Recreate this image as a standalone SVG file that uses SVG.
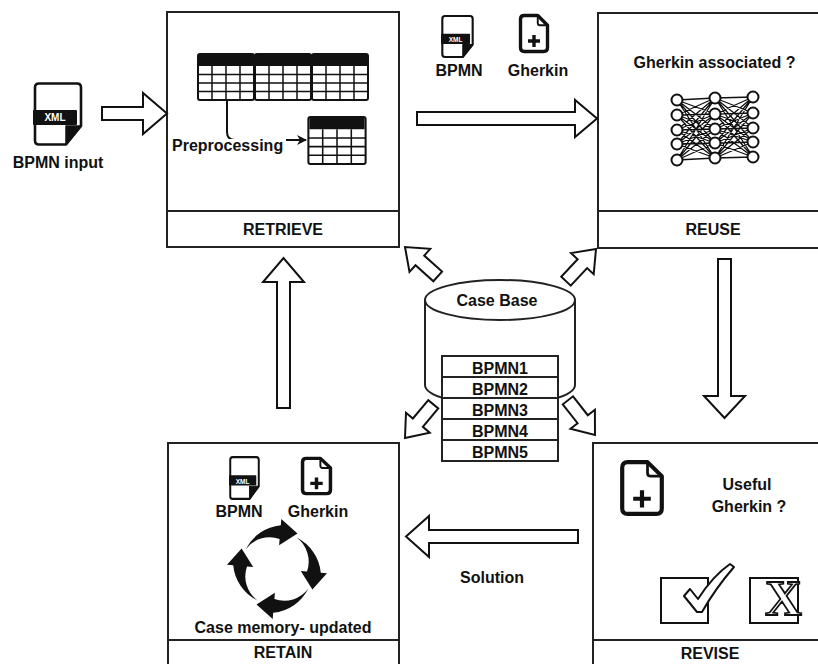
<svg xmlns="http://www.w3.org/2000/svg" xmlns:xlink="http://www.w3.org/1999/xlink" width="818" height="664" viewBox="0 0 818 664">
  <style>
    .box { fill: #fff; stroke: #222; stroke-width: 2; }
    .div { stroke: #222; stroke-width: 2; }
    .lbl { font-family: "Liberation Sans", Arial, Helvetica, sans-serif; font-weight: bold; font-size: 16px; fill: #111; text-anchor: middle; }
    .xml { font-family: "Liberation Sans", Arial, sans-serif; font-weight: bold; fill: #fff; text-anchor: middle; }
    .blk { fill: #fff; stroke: #111; stroke-width: 2; stroke-linejoin: miter; }
    .tbl { fill: #fff; stroke: #111; stroke-width: 2; }
    .grid { stroke: #111; stroke-width: 1.5; fill: none; }
    .edge { stroke: #111; stroke-width: 1.3; }
    .neu { fill: #fff; stroke: #111; stroke-width: 2; }
  </style>
  <defs>
    <!-- file icon with XML band and folded bottom-right corner -->
    <symbol id="xmlDoc" viewBox="0 0 50 64" preserveAspectRatio="none" overflow="visible">
      <path d="M6 1.5 H44 Q48 1.5 48 5.5 V44 L33 62.5 H6 Q2 62.5 2 58.5 V5.5 Q2 1.5 6 1.5 Z" fill="#fff" stroke="#111" stroke-linejoin="round"/>
      <path d="M48 44 L33 62.5 V44 Z" fill="#111" stroke="#111" stroke-width="1.5" stroke-linejoin="round"/>
      <rect x="0" y="28" width="44" height="15" rx="1" fill="#111"/>
    </symbol>
    <!-- file icon with a plus sign and folded top-right corner; outline width comes from the <use> -->
    <symbol id="plusDoc" viewBox="0 0 40 52" preserveAspectRatio="none" overflow="visible">
      <path d="M7 2 H25 L38 15 V45 Q38 50 33 50 H7 Q2 50 2 45 V7 Q2 2 7 2 Z" fill="#fff" stroke="#111" stroke-linejoin="round"/>
      <path d="M25 2 V12 Q25 15 28 15 H38" fill="none" stroke="#111" stroke-width="2.5"/>
      <path d="M20 28 V44 M12 36 H28" stroke="#111" fill="none"/>
    </symbol>
    <!-- sub-table: dark header, 4 columns x 4 rows -->
    <symbol id="subTable" viewBox="0 0 56 46" overflow="visible">
      <rect x="0" y="0" width="56" height="46" rx="2" class="tbl"/>
      <path d="M1 0 H55 V12 H1 Z" fill="#111"/>
      <path class="grid" d="M0 20.5 H56 M0 29 H56 M0 37.5 H56 M14 12 V46 M28 12 V46 M42 12 V46"/>
    </symbol>
    <!-- one curved arrow of the recycle loop -->
    <path id="loopArrow" d="M-31.4 -19.6 A44 44 0 0 1 3.8 -43.8 L4.3 -50 L20.5 -35.4 L2.1 -23.8 L2.6 -30 A30 30 0 0 0 -31.4 -19.6 Z" fill="#111"/>
    <!-- block arrow pointing along +x, tip at origin -->
    <path id="diagArrow" d="M0 0 L-20 -15.5 L-20 -6.5 L-44 -6.5 L-44 6.5 L-20 6.5 L-20 15.5 Z"/>
    <marker id="tip" viewBox="0 0 10 10" refX="9" refY="5" markerWidth="5" markerHeight="5" orient="auto" markerUnits="strokeWidth">
      <path d="M0 0 L10 5 L0 10 L3 5 Z" fill="#111"/>
    </marker>
  </defs>

  <rect width="818" height="664" fill="#fff"/>

  <!-- input file -->
  <g id="bpmn-input">
    <use xlink:href="#xmlDoc" href="#xmlDoc" x="33" y="82" width="50" height="64" stroke-width="2.6"/>
    <text class="xml" x="55" y="121" font-size="10">XML</text>
    <text class="lbl" x="58" y="168">BPMN input</text>
  </g>

  <!-- RETRIEVE -->
  <g id="retrieve">
    <rect class="box" x="167" y="12" width="232" height="235"/>
    <line class="div" x1="167" y1="211" x2="399" y2="211"/>
    <use xlink:href="#subTable" href="#subTable" x="198" y="54" width="56" height="46"/>
    <use xlink:href="#subTable" href="#subTable" x="255" y="54" width="56" height="46"/>
    <use xlink:href="#subTable" href="#subTable" x="312" y="54" width="56" height="46"/>
    <use xlink:href="#subTable" href="#subTable" x="308" y="117" width="58" height="47"/>
    <path d="M227 100 V132 Q227 140 235 140 H306" fill="none" stroke="#111" stroke-width="2" marker-end="url(#tip)"/>
    <!-- label sits on a white backing over the connector -->
    <rect x="171" y="139" width="115" height="16" fill="#fff"/>
    <text class="lbl" x="172" y="151" style="text-anchor:start">Preprocessing</text>
    <text class="lbl" x="283" y="235">RETRIEVE</text>
  </g>

  <!-- files passed to REUSE -->
  <g id="handover">
    <use xlink:href="#xmlDoc" href="#xmlDoc" x="441" y="15" width="33" height="43" stroke-width="3.2"/>
    <text class="xml" x="455.5" y="41.5" font-size="6.5">XML</text>
    <text class="lbl" x="459" y="76">BPMN</text>
    <use xlink:href="#plusDoc" href="#plusDoc" x="519" y="14" width="30" height="39" stroke-width="4.5"/>
    <text class="lbl" x="538" y="76">Gherkin</text>
  </g>

  <!-- REUSE -->
  <g id="reuse">
    <rect class="box" x="598" y="13" width="240" height="235"/>
    <line class="div" x1="598" y1="211" x2="818" y2="211"/>
    <text class="lbl" x="714.5" y="68" font-size="17">Gherkin associated ?</text>
    <g id="neural-net">
      <g class="edge">
        <path d="M677 100 L715 98 M677 100 L715 114 M677 100 L715 129 M677 100 L715 143 M677 100 L715 158
                 M677 115 L715 98 M677 115 L715 114 M677 115 L715 129 M677 115 L715 143 M677 115 L715 158
                 M677 130 L715 98 M677 130 L715 114 M677 130 L715 129 M677 130 L715 143 M677 130 L715 158
                 M677 144 L715 98 M677 144 L715 114 M677 144 L715 129 M677 144 L715 143 M677 144 L715 158
                 M677 160 L715 98 M677 160 L715 114 M677 160 L715 129 M677 160 L715 143 M677 160 L715 158
                 M715 98 L753 97 M715 98 L753 113 M715 98 L753 128 M715 98 L753 142 M715 98 L753 157
                 M715 114 L753 97 M715 114 L753 113 M715 114 L753 128 M715 114 L753 142 M715 114 L753 157
                 M715 129 L753 97 M715 129 L753 113 M715 129 L753 128 M715 129 L753 142 M715 129 L753 157
                 M715 143 L753 97 M715 143 L753 113 M715 143 L753 128 M715 143 L753 142 M715 143 L753 157
                 M715 158 L753 97 M715 158 L753 113 M715 158 L753 128 M715 158 L753 142 M715 158 L753 157"/>
      </g>
      <g class="neu">
        <circle cx="677" cy="100" r="5.5"/><circle cx="677" cy="115" r="5.5"/><circle cx="677" cy="130" r="5.5"/><circle cx="677" cy="144" r="5.5"/><circle cx="677" cy="160" r="5.5"/>
        <circle cx="715" cy="98" r="5.5"/><circle cx="715" cy="114" r="5.5"/><circle cx="715" cy="129" r="5.5"/><circle cx="715" cy="143" r="5.5"/><circle cx="715" cy="158" r="5.5"/>
        <circle cx="753" cy="97" r="5.5"/><circle cx="753" cy="113" r="5.5"/><circle cx="753" cy="128" r="5.5"/><circle cx="753" cy="142" r="5.5"/><circle cx="753" cy="157" r="5.5"/>
      </g>
    </g>
    <text class="lbl" x="713" y="235">REUSE</text>
  </g>

  <!-- case base cylinder with stored cases -->
  <g id="case-base">
    <path d="M425 300 V385 A75 20 0 0 0 575 385 V300" fill="#fff" stroke="#222" stroke-width="2"/>
    <ellipse cx="500" cy="300" rx="75" ry="20" fill="#fff" stroke="#222" stroke-width="2"/>
    <text class="lbl" x="497" y="306">Case Base</text>
    <g fill="#fff" stroke="#222" stroke-width="2">
      <rect x="442" y="356" width="116" height="21"/>
      <rect x="442" y="377" width="116" height="21"/>
      <rect x="442" y="398" width="116" height="21"/>
      <rect x="442" y="419" width="116" height="21"/>
      <rect x="442" y="440" width="116" height="21"/>
    </g>
    <text class="lbl" x="500" y="373.5">BPMN1</text>
    <text class="lbl" x="500" y="394.5">BPMN2</text>
    <text class="lbl" x="500" y="415.5">BPMN3</text>
    <text class="lbl" x="500" y="436.5">BPMN4</text>
    <text class="lbl" x="500" y="457.5">BPMN5</text>
  </g>

  <!-- RETAIN -->
  <g id="retain">
    <rect class="box" x="168" y="443" width="231" height="240"/>
    <line class="div" x1="168" y1="640" x2="399" y2="640"/>
    <use xlink:href="#xmlDoc" href="#xmlDoc" x="229" y="456" width="31" height="44" stroke-width="3.2"/>
    <text class="xml" x="242.5" y="483.5" font-size="6.5">XML</text>
    <text class="lbl" x="239" y="517">BPMN</text>
    <use xlink:href="#plusDoc" href="#plusDoc" x="301" y="457" width="31" height="38" stroke-width="4.5"/>
    <text class="lbl" x="318" y="517">Gherkin</text>
    <g id="update-loop" transform="translate(277 569)">
      <use xlink:href="#loopArrow" href="#loopArrow"/>
      <use xlink:href="#loopArrow" href="#loopArrow" transform="rotate(90)"/>
      <use xlink:href="#loopArrow" href="#loopArrow" transform="rotate(180)"/>
      <use xlink:href="#loopArrow" href="#loopArrow" transform="rotate(270)"/>
    </g>
    <text class="lbl" x="283" y="633">Case memory- updated</text>
    <text class="lbl" x="283" y="658">RETAIN</text>
  </g>

  <!-- REVISE -->
  <g id="revise">
    <rect class="box" x="593" y="443" width="245" height="240"/>
    <line class="div" x1="593" y1="640" x2="818" y2="640"/>
    <use xlink:href="#plusDoc" href="#plusDoc" x="620" y="460" width="44" height="56" stroke-width="3.8"/>
    <text class="lbl" x="747" y="490">Useful</text>
    <text class="lbl" x="749" y="512">Gherkin ?</text>
    <rect x="661" y="578" width="47" height="45" fill="#fff" stroke="#111" stroke-width="2"/>
    <path d="M684 596 L690 589 L698 599 C707 585 717 573 730 564 L734 567 C721 582 710 598 702 612 L697 612 Z" fill="#fff" stroke="#111" stroke-width="2" stroke-linejoin="round"/>
    <rect x="750" y="578" width="48" height="45" fill="#fff" stroke="#111" stroke-width="2"/>
    <text x="783.5" y="615" font-family="'Liberation Serif', 'Times New Roman', serif" font-weight="bold" font-size="51" text-anchor="middle" fill="#fff" stroke="#111" stroke-width="1.8">X</text>
    <text class="lbl" x="710" y="659">REVISE</text>
  </g>

  <!-- block arrows between the stages -->
  <g id="connectors" class="blk">
    <polygon points="102,107 143,107 143,93 167,113.5 143,134 143,120 102,120"/>
    <polygon points="417,112 575,112 575,100 597,118.5 575,137 575,125 417,125"/>
    <polygon points="718,259 731,259 731,396 745,396 724.5,418 704,396 718,396"/>
    <polygon points="578,530 429,530 429,516 406,536.5 429,557 429,543 578,543"/>
    <polygon points="277,408 277,282 263,282 283.5,258 304,282 290,282 290,408"/>
    <use xlink:href="#diagArrow" href="#diagArrow" transform="translate(405 247) rotate(-138)"/>
    <use xlink:href="#diagArrow" href="#diagArrow" transform="translate(596 249) rotate(-47)"/>
    <use xlink:href="#diagArrow" href="#diagArrow" transform="translate(405 438) rotate(130)"/>
    <use xlink:href="#diagArrow" href="#diagArrow" transform="translate(595 435) rotate(52)"/>
  </g>

  <text class="lbl" x="492" y="583">Solution</text>
</svg>
